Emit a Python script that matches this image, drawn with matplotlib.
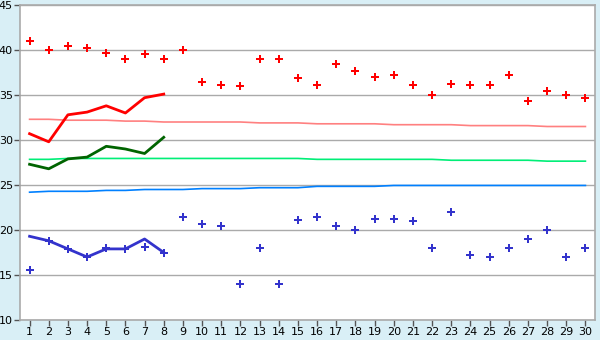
import matplotlib
matplotlib.use('Agg')
import matplotlib.pyplot as plt

days = list(range(1, 31))

# daily highs / lows (points)
high = [41.0, 40.0, 40.5, 40.2, 39.7, 39.0, 39.6, 39.0, 40.0, 36.4,
        36.1, 36.0, 39.0, 39.0, 36.9, 36.1, 38.5, 37.7, 37.0, 37.2,
        36.1, 35.0, 36.2, 36.1, 36.1, 37.2, 34.3, 35.5, 35.0, 34.7]
low = [15.6, 18.8, 17.9, 17.0, 18.0, 17.9, 18.1, 17.5, 21.4, 20.7,
       20.5, 14.0, 18.0, 14.0, 21.1, 21.5, 20.4, 20.0, 21.2, 21.2,
       21.0, 18.0, 22.0, 17.2, 17.0, 18.0, 19.0, 20.0, 17.0, 18.0]

# lines for first 8 days
line_days = days[:8]
line_high = [30.7, 29.8, 32.8, 33.1, 33.8, 33.0, 34.7, 35.1]
line_mid = [27.3, 26.8, 27.9, 28.1, 29.3, 29.0, 28.5, 30.3]
line_low = [19.3, 18.8, 17.9, 17.0, 17.9, 17.9, 19.0, 17.5]

# normals
norm_high = [32.3, 32.3, 32.2, 32.2, 32.2, 32.1, 32.1, 32.0, 32.0, 32.0,
             32.0, 32.0, 31.9, 31.9, 31.9, 31.8, 31.8, 31.8, 31.8, 31.7,
             31.7, 31.7, 31.7, 31.6, 31.6, 31.6, 31.6, 31.5, 31.5, 31.5]
norm_mid = [27.85, 27.85, 27.95, 27.95, 27.95, 27.95, 27.95, 27.95, 27.95, 27.95,
            27.95, 27.95, 27.95, 27.95, 27.95, 27.85, 27.85, 27.85, 27.85, 27.85,
            27.85, 27.85, 27.75, 27.75, 27.75, 27.75, 27.75, 27.65, 27.65, 27.65]
norm_low = [24.2, 24.3, 24.3, 24.3, 24.4, 24.4, 24.5, 24.5, 24.5, 24.6,
            24.6, 24.6, 24.7, 24.7, 24.7, 24.85, 24.85, 24.85, 24.85, 24.95,
            24.95, 24.95, 24.95, 24.95, 24.95, 24.95, 24.95, 24.95, 24.95, 24.95]

fig = plt.figure(figsize=(6, 3.4), dpi=100, facecolor='#d9eff6')
ax = fig.add_axes([20 / 600, 20 / 340, 575 / 600, 315 / 340])
ax.set_facecolor('white')

ax.plot(days, norm_high, color='#ff8080', lw=1.2)
ax.plot(days, norm_mid, color='#00ee77', lw=1.2)
ax.plot(days, norm_low, color='#0080ff', lw=1.2)

ax.plot(line_days, line_high, color='#ff0000', lw=2)
ax.plot(line_days, line_mid, color='#006400', lw=2)
ax.plot(line_days, line_low, color='#3333cc', lw=2)

ax.plot(days, high, 'P', color='#ff0000', ms=5.5, mew=0, ls='none')
ax.plot(days, low, 'P', color='#3333cc', ms=5.5, mew=0, ls='none')

ax.set_xlim(0.5, 30.5)
ax.set_ylim(10, 45)
ax.set_xticks(days)
ax.set_yticks(range(10, 50, 5))
ax.yaxis.grid(True, color='#aaaaaa', lw=1)
ax.set_axisbelow(True)
for s in ax.spines.values():
    s.set_color('#aaaaaa')
    s.set_linewidth(1.2)
ax.tick_params(axis='both', colors='#555555', labelcolor='black', labelsize=8,
               length=4, width=1, pad=1)

fig.savefig('out.png', dpi=100, facecolor=fig.get_facecolor())
